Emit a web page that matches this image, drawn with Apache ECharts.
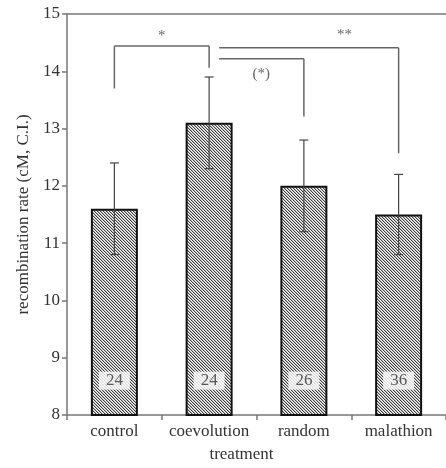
<!DOCTYPE html>
<html>
<head>
<meta charset="utf-8">
<script src="https://cdn.jsdelivr.net/npm/echarts@6/dist/echarts.min.js"></script>
<style>
html,body{margin:0;padding:0;background:#fff;}
#chart{width:446px;height:468px;}
</style>
</head>
<body>
<div id="chart"></div>
<script>
// ---- data ----
const categories = ['control', 'coevolution', 'random', 'malathion'];
const means = [11.6, 13.1, 12.0, 11.5];
const ciLow = [10.8, 12.3, 11.2, 10.8];
const ciHigh = [12.4, 13.9, 12.8, 12.2];
const sampleSizes = [24, 24, 26, 36];
const countLabelY = 8.6;
const yMin = 8, yMax = 15, yStep = 1;
// significance brackets
const bracketFrom = [0, 1, 1];
const bracketTo = [1, 3, 2];
const bracketTop = [14.44, 14.41, 14.22];
const bracketLeftEnd = [13.7, null, null];
const bracketRightEnd = [14.06, 12.57, 13.21];
const bracketText = ['*', '**', '(*)'];
const bracketTextX = [0.5, 2.43, 1.55];
const bracketTextY = [14.62, 14.64, 13.96];

// hatch pattern
function makeHatch() {
  const n = 3;
  const c = document.createElement('canvas');
  c.width = n; c.height = n;
  const ctx = c.getContext('2d');
  const img = ctx.createImageData(n, n);
  const tones = [60, 185, 255];
  for (let y = 0; y < n; y++) {
    for (let x = 0; x < n; x++) {
      const d = ((x - y) % n + n) % n;
      const v = tones[d];
      const k = (y * n + x) * 4;
      img.data[k] = v; img.data[k + 1] = v; img.data[k + 2] = v; img.data[k + 3] = 255;
    }
  }
  ctx.putImageData(img, 0, 0);
  return c;
}

const FONT = '"Liberation Serif", "DejaVu Serif", serif';
const chart = echarts.init(document.getElementById('chart'), null, {renderer: 'canvas'});

function xAt(api, pos, val) {
  const i0 = Math.floor(pos), i1 = Math.min(i0 + 1, categories.length - 1);
  const p0 = api.coord([i0, val]);
  const p1 = api.coord([i1, val]);
  const f = pos - i0;
  return [p0[0] + (p1[0] - p0[0]) * f, p0[1]];
}

const option = {
  animation: false,
  grid: {left: 67, right: -4, top: 14, bottom: 51},
  xAxis: [{
    type: 'category',
    data: categories,
    position: 'bottom',
    name: 'treatment',
    nameLocation: 'middle',
    nameGap: 31,
    nameTextStyle: {fontFamily: FONT, fontSize: 17, color: '#333', padding: [0, 30, 0, 0]},
    axisLine: {show: true, lineStyle: {color: '#777', width: 1.5}},
    axisTick: {show: true, length: 5, lineStyle: {color: '#777', width: 1.5}},
    axisLabel: {fontFamily: FONT, fontSize: 17, color: '#333', margin: 8, interval: 0},
    splitLine: {show: false}
  }, {
    type: 'category',
    data: categories,
    position: 'top',
    axisLine: {show: true, lineStyle: {color: '#777', width: 1.5}},
    axisTick: {show: false},
    axisLabel: {show: false}
  }],
  yAxis: {
    type: 'value',
    min: yMin, max: yMax, interval: yStep,
    name: 'recombination rate (cM, C.I.)',
    nameLocation: 'middle',
    nameGap: 33,
    nameTextStyle: {fontFamily: FONT, fontSize: 17, color: '#333'},
    axisLine: {show: true, lineStyle: {color: '#777', width: 1.5}},
    axisTick: {show: true, length: 5, lineStyle: {color: '#777', width: 1.5}},
    axisLabel: {fontFamily: FONT, fontSize: 17, color: '#333', margin: 7},
    splitLine: {show: false}
  },
  series: [{
    type: 'bar',
    data: means,
    barWidth: 47,
    itemStyle: {
      color: {image: makeHatch(), repeat: 'repeat'},
      borderColor: '#111',
      borderWidth: 2
    },
    z: 2
  }, {
    type: 'custom',
    z: 3,
    data: categories.map((c, i) => [i, ciLow[i], ciHigh[i]]),
    renderItem: function (params, api) {
      const i = api.value(0);
      const lo = api.coord([i, api.value(1)]);
      const hi = api.coord([i, api.value(2)]);
      const w = 4.5;
      const style = {stroke: '#444', lineWidth: 1.2};
      return {type: 'group', children: [
        {type: 'line', shape: {x1: lo[0], y1: lo[1], x2: hi[0], y2: hi[1]}, style: style},
        {type: 'line', shape: {x1: hi[0] - w, y1: hi[1], x2: hi[0] + w, y2: hi[1]}, style: style},
        {type: 'line', shape: {x1: lo[0] - w, y1: lo[1], x2: lo[0] + w, y2: lo[1]}, style: style}
      ]};
    }
  }, {
    type: 'scatter',
    z: 4,
    symbolSize: 0,
    data: categories.map((c, i) => [i, countLabelY, sampleSizes[i]]),
    label: {
      show: true,
      position: 'inside',
      formatter: p => String(p.data[2]),
      fontFamily: FONT, fontSize: 17, color: '#333',
      backgroundColor: '#fff',
      padding: [1, 7, 0, 7]
    }
  }, {
    type: 'custom',
    z: 5,
    data: bracketFrom.map((f, i) => [i]),
    renderItem: function (params, api) {
      const k = api.value(0);
      const top = bracketTop[k];
      const pl = api.coord([bracketFrom[k], top]);
      const pr = api.coord([bracketTo[k], top]);
      let xl = pl[0];
      const children = [];
      const style = {stroke: '#666', lineWidth: 1.5};
      if (bracketLeftEnd[k] !== null) {
        const e = api.coord([bracketFrom[k], bracketLeftEnd[k]]);
        children.push({type: 'line', shape: {x1: xl, y1: pl[1], x2: xl, y2: e[1]}, style: style});
      } else {
        xl = pl[0] + 10;
      }
      children.push({type: 'line', shape: {x1: xl, y1: pl[1], x2: pr[0], y2: pr[1]}, style: style});
      if (bracketRightEnd[k] !== null) {
        const e = api.coord([bracketTo[k], bracketRightEnd[k]]);
        children.push({type: 'line', shape: {x1: pr[0], y1: pr[1], x2: pr[0], y2: e[1]}, style: style});
      }
      const tp = xAt(api, bracketTextX[k], bracketTextY[k]);
      children.push({type: 'text', x: tp[0], y: tp[1], style: {
        text: bracketText[k], align: 'center', verticalAlign: 'middle',
        font: '15px ' + FONT, fill: '#666'
      }});
      return {type: 'group', children: children};
    }
  }]
};
chart.setOption(option);
</script>
</body>
</html>
